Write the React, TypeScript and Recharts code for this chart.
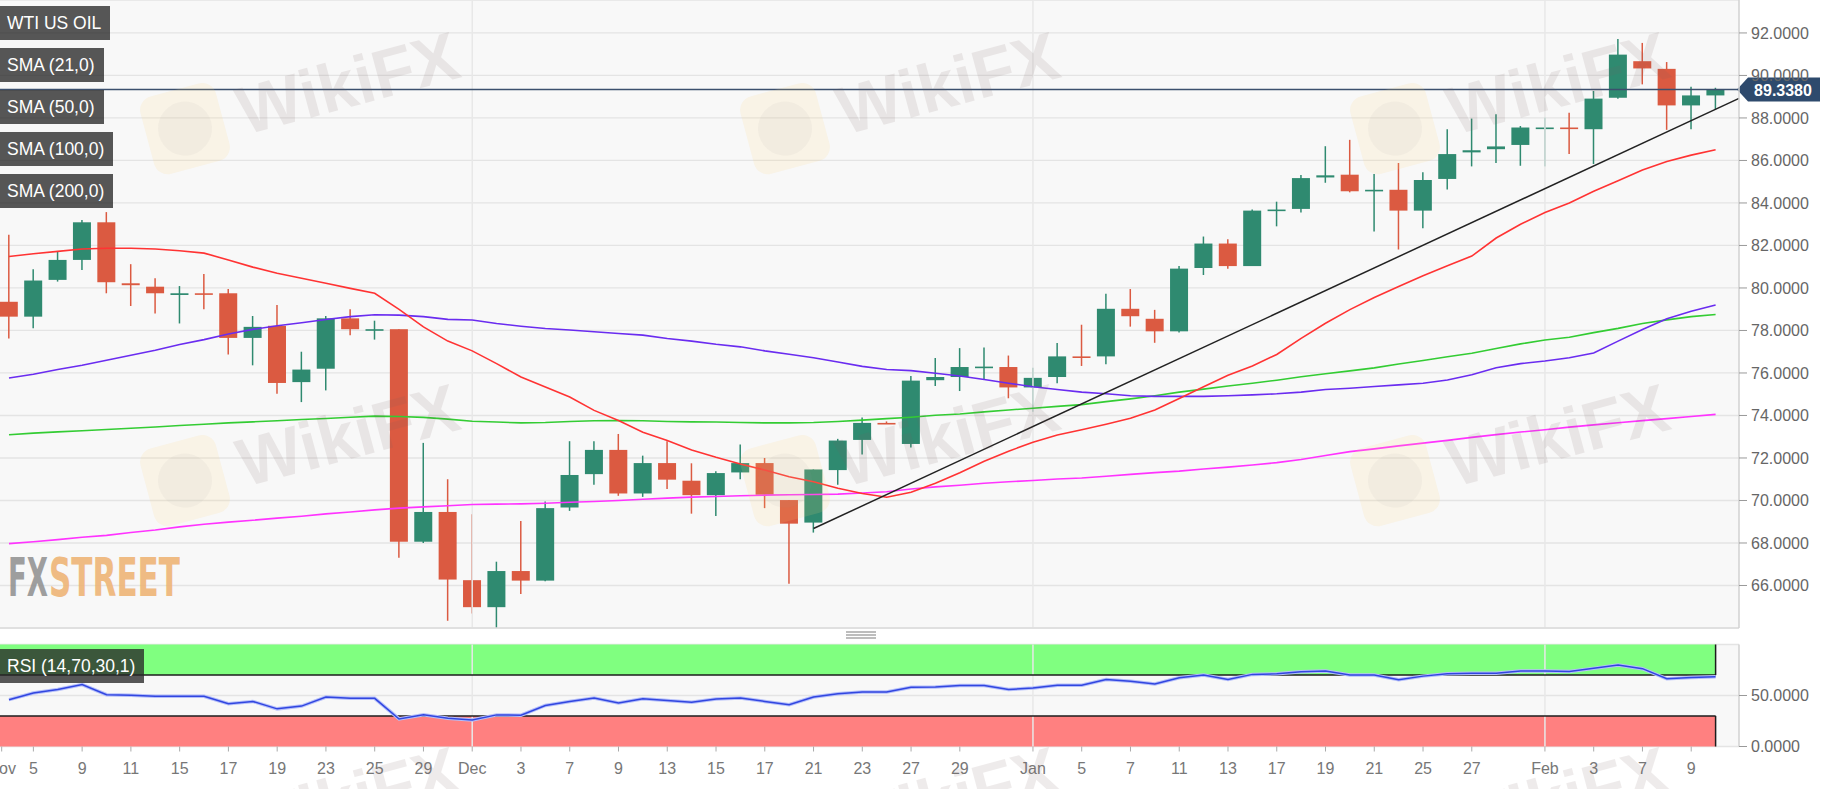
import React from "react";
import {
  ComposedChart,
  Bar,
  Line,
  XAxis,
  YAxis,
  CartesianGrid,
  ReferenceLine,
  ReferenceArea,
} from "recharts";

// WTI daily candles, Nov 4 2021 - Feb 10 2022
const dates = [
  "Nov 4", "Nov 5", "Nov 8", "Nov 9", "Nov 10", "Nov 11", "Nov 12", "Nov 15", "Nov 16", "Nov 17",
  "Nov 18", "Nov 19", "Nov 22", "Nov 23", "Nov 24", "Nov 25", "Nov 26", "Nov 29", "Nov 30",
  "Dec 1", "Dec 2", "Dec 3", "Dec 6", "Dec 7", "Dec 8", "Dec 9", "Dec 10", "Dec 13", "Dec 14",
  "Dec 15", "Dec 16", "Dec 17", "Dec 20", "Dec 21", "Dec 22", "Dec 23", "Dec 24", "Dec 27",
  "Dec 28", "Dec 29", "Dec 30", "Dec 31",
  "Jan 3", "Jan 4", "Jan 5", "Jan 6", "Jan 7", "Jan 10", "Jan 11", "Jan 12", "Jan 13", "Jan 14",
  "Jan 17", "Jan 18", "Jan 19", "Jan 20", "Jan 21", "Jan 24", "Jan 25", "Jan 26", "Jan 27",
  "Jan 28", "Jan 31",
  "Feb 1", "Feb 2", "Feb 3", "Feb 4", "Feb 7", "Feb 8", "Feb 9", "Feb 10",
];

const opens = [
  79.35, 78.65, 80.38, 81.32, 83.09, 80.22, 80.06, 79.67, 79.75, 79.75,
  77.65, 78.22, 75.57, 76.2, 78.57, 78.04, 78.06, 68.06, 69.46, 66.25,
  64.98, 66.68, 66.23, 69.67, 71.24, 72.38, 70.33, 71.76, 70.93, 70.25,
  71.32, 71.76, 70.02, 68.96, 71.43, 72.85, 73.65, 72.66, 75.66, 75.81,
  76.26, 76.28, 75.32, 75.81, 76.78, 76.78, 79.02, 78.55, 77.96, 80.94,
  82.09, 81.03, 83.64, 83.72, 85.2, 85.33, 84.58, 84.62, 83.64, 85.13,
  86.38, 86.53, 86.73, 87.5, 87.55, 87.47, 88.95, 90.67, 90.31, 88.59, 89.06,
];
const highs = [
  82.5, 80.88, 81.72, 83.2, 83.57, 81.12, 80.46, 80.09, 80.66, 79.95,
  78.68, 79.2, 77.0, 78.68, 79.0, 78.46, 78.06, 72.71, 71.0, 69.35,
  67.12, 69.04, 69.95, 72.79, 72.79, 73.13, 72.11, 72.79, 71.75, 71.37,
  72.63, 72.0, 70.02, 71.46, 72.9, 73.9, 73.72, 75.86, 76.7, 77.17,
  77.2, 76.82, 76.25, 77.41, 78.27, 79.73, 79.95, 78.97, 81.03, 82.42,
  82.29, 83.69, 84.06, 85.32, 86.67, 86.97, 85.36, 85.88, 85.44, 87.47,
  87.97, 88.17, 87.62, 88.02, 88.25, 89.27, 91.72, 91.53, 90.63, 89.47, 89.42,
];
const lows = [
  77.62, 78.1, 80.3, 80.85, 79.75, 79.15, 78.8, 78.33, 79.0, 76.87,
  76.36, 75.02, 74.63, 75.18, 77.78, 77.57, 67.31, 68.0, 64.34, 64.68,
  64.0, 65.6, 66.2, 69.51, 70.74, 70.22, 70.17, 70.54, 69.38, 69.27,
  71.0, 69.64, 66.08, 68.49, 70.74, 72.16, 73.6, 72.49, 75.39, 75.15,
  75.72, 74.81, 74.18, 75.52, 76.33, 76.41, 78.18, 77.42, 77.91, 80.61,
  80.91, 81.03, 82.9, 83.55, 84.95, 84.5, 82.66, 81.81, 82.81, 84.63,
  85.72, 85.88, 85.75, 85.72, 86.3, 85.83, 88.9, 89.58, 87.44, 87.47, 88.41,
];
const closes = [
  78.65, 80.35, 81.32, 83.09, 80.27, 80.13, 79.75, 79.75, 79.7, 77.65,
  78.17, 75.53, 76.16, 78.57, 78.06, 78.06, 68.06, 69.46, 66.28, 64.98,
  66.68, 66.23, 69.64, 71.2, 72.38, 70.33, 71.76, 70.98, 70.25, 71.29,
  71.76, 70.27, 68.91, 71.46, 72.82, 73.65, 73.6, 75.64, 75.81, 76.28,
  76.3, 75.32, 75.77, 76.78, 76.73, 79.02, 78.67, 77.96, 80.91, 82.09,
  81.03, 83.64, 83.69, 85.17, 85.3, 84.55, 84.62, 83.64, 85.08, 86.3,
  86.48, 86.66, 87.55, 87.55, 87.5, 88.91, 90.98, 90.33, 88.59, 89.06, 89.33,
];

const sma21 = [
  81.48, 81.61, 81.72, 81.83, 81.87, 81.87, 81.83, 81.75, 81.64, 81.32,
  80.98, 80.69, 80.46, 80.22, 79.98, 79.75, 78.99, 78.17, 77.5, 77.04,
  76.44, 75.81, 75.34, 74.87, 74.24, 73.76, 73.21, 72.82, 72.38, 72.03,
  71.72, 71.43, 71.12, 70.88, 70.58, 70.33, 70.15, 70.39, 70.81, 71.31,
  71.85, 72.32, 72.74, 73.08, 73.33, 73.59, 73.87, 74.26, 74.8, 75.35,
  75.89, 76.33, 76.87, 77.63, 78.34, 78.98, 79.55, 80.07, 80.57, 81.04,
  81.5, 82.35, 83.0, 83.55, 84.0, 84.55, 85.05, 85.55, 85.95, 86.25, 86.5,
];
const sma50 = [
  75.76, 75.94, 76.16, 76.36, 76.6, 76.83, 77.07, 77.34, 77.57, 77.83,
  78.05, 78.22, 78.36, 78.52, 78.65, 78.74, 78.72, 78.65, 78.52, 78.49,
  78.33, 78.2, 78.09, 78.02, 77.94, 77.86, 77.78, 77.62, 77.5, 77.35,
  77.23, 77.04, 76.88, 76.72, 76.52, 76.31, 76.16, 76.11, 75.99, 75.86,
  75.69, 75.52, 75.35, 75.22, 75.1, 75.02, 74.93, 74.9, 74.9, 74.9,
  74.93, 74.97, 75.02, 75.1, 75.22, 75.28, 75.36, 75.44, 75.52, 75.67,
  75.92, 76.25, 76.44, 76.56, 76.72, 76.94, 77.5, 78.05, 78.55, 78.9, 79.2,
];
const sma100 = [
  73.09, 73.17, 73.23, 73.28, 73.34, 73.4, 73.46, 73.53, 73.59, 73.65,
  73.7, 73.75, 73.81, 73.86, 73.92, 73.97, 73.95, 73.91, 73.83, 73.73,
  73.69, 73.65, 73.67, 73.72, 73.75, 73.76, 73.75, 73.72, 73.7, 73.69,
  73.67, 73.65, 73.65, 73.67, 73.72, 73.78, 73.85, 73.92, 74.01, 74.07,
  74.17, 74.26, 74.34, 74.43, 74.51, 74.65, 74.78, 74.93, 75.1, 75.24,
  75.39, 75.52, 75.66, 75.82, 75.96, 76.1, 76.24, 76.42, 76.59, 76.76,
  76.93, 77.15, 77.37, 77.55, 77.68, 77.9, 78.1, 78.33, 78.5, 78.65, 78.75,
];
const sma200 = [
  67.97, 68.06, 68.16, 68.27, 68.36, 68.49, 68.61, 68.76, 68.88, 68.98,
  69.07, 69.17, 69.26, 69.37, 69.46, 69.56, 69.64, 69.7, 69.75, 69.81,
  69.83, 69.84, 69.87, 69.92, 69.95, 70.0, 70.06, 70.11, 70.16, 70.19,
  70.22, 70.25, 70.27, 70.28, 70.3, 70.35, 70.41, 70.54, 70.64, 70.72,
  70.81, 70.88, 70.94, 71.01, 71.06, 71.14, 71.23, 71.31, 71.38, 71.48,
  71.57, 71.67, 71.78, 71.93, 72.12, 72.3, 72.43, 72.57, 72.7, 72.83,
  72.97, 73.1, 73.22, 73.33, 73.45, 73.56, 73.66, 73.76, 73.85, 73.95, 74.05,
];
const rsi = [
  45.9, 52.5, 55.8, 60.7, 50.8, 50.2, 49.2, 49.2, 49.2, 41.9,
  44.2, 36.9, 39.6, 48.5, 47.2, 47.2, 27.0, 31.0, 27.7, 26.0,
  31.0, 30.7, 40.2, 44.2, 47.5, 42.6, 46.9, 45.2, 43.3, 46.5,
  47.5, 44.2, 40.9, 48.5, 51.8, 53.5, 53.5, 58.1, 58.4, 59.8,
  59.8, 55.8, 57.4, 60.1, 60.1, 65.7, 64.0, 61.4, 67.4, 70.0,
  65.7, 70.7, 71.3, 73.3, 74.0, 70.0, 70.0, 65.4, 69.0, 71.3,
  71.7, 71.7, 74.0, 74.0, 73.6, 76.6, 79.9, 76.3, 66.4, 67.7, 68.3,
];

const priceTicks = [66, 68, 70, 72, 74, 76, 78, 80, 82, 84, 86, 88, 90, 92];
const rsiTicks = [0, 50];
const xTickIdx = [
  -0.3, 1, 3, 5, 7, 9, 11, 13, 15, 17, 19, 21, 23, 25, 27, 29, 31, 33, 35, 37,
  39, 42, 44, 46, 48, 50, 52, 54, 56, 58, 60, 63, 65, 67, 69,
];
const xTickLabels = [
  "Nov", "5", "9", "11", "15", "17", "19", "23", "25", "29", "Dec", "3", "7", "9", "13",
  "15", "17", "21", "23", "27", "29", "Jan", "5", "7", "11", "13", "17", "19", "21", "25",
  "27", "Feb", "3", "7", "9",
];
const monthStarts = [19, 42, 63];
const legendLabels = ["WTI US OIL", "SMA (21,0)", "SMA (50,0)", "SMA (100,0)", "SMA (200,0)"];

const lastPrice = 89.338;
const trendStart = { i: 33, v: 68.68 };
const trendEnd = { i: 70.96, v: 88.92 };

const X_MIN = -0.369;
const X_MAX = 70.96;
const LAST_IDX = dates.length - 1;

const GREEN = "#2f8a70";
const RED = "#db5a41";
const FONT = "'Liberation Sans', Arial, sans-serif";

const rows = dates.map((date, i) => ({
  i,
  date,
  open: opens[i],
  high: highs[i],
  low: lows[i],
  close: closes[i],
  range: [lows[i], highs[i]],
  sma21: sma21[i],
  sma50: sma50[i],
  sma100: sma100[i],
  sma200: sma200[i],
  rsi: rsi[i],
}));

const tickLabel = new Map(xTickIdx.map((v, k) => [v, xTickLabels[k]]));

function Candle(props: any) {
  const { x, y, width, height, payload } = props;
  if (x == null || y == null) return null;
  const { open, close, high, low } = payload;
  const color = close >= open ? GREEN : RED;
  const span = high - low;
  const k = span > 0 ? height / span : 0;
  const yOpen = y + (high - open) * k;
  const yClose = y + (high - close) * k;
  const top = Math.min(yOpen, yClose);
  const bodyH = Math.max(1.6, Math.abs(yOpen - yClose));
  const cx = x + width / 2;
  return (
    <g>
      <line x1={cx} x2={cx} y1={y} y2={y + height} stroke={color} strokeWidth={1.5} />
      <rect x={x} y={top} width={width} height={bodyH} fill={color} />
    </g>
  );
}

function PriceTag(props: any) {
  const vb = props.viewBox || {};
  const x = (vb.x ?? 0) + (vb.width ?? 0);
  const y = vb.y ?? 0;
  return (
    <g>
      <polygon
        points={`${x - 2},${y} ${x + 9},${y - 12} ${x + 81},${y - 12} ${x + 81},${y + 12} ${x + 9},${y + 12}`}
        fill="#2e4a6d"
      />
      <text x={x + 44} y={y + 6} textAnchor="middle" fill="#fff" fontSize={16} fontWeight="bold">
        {lastPrice.toFixed(4)}
      </text>
    </g>
  );
}

function Watermark({ x, y }: { x: number; y: number }) {
  return (
    <g transform={`rotate(-15 ${x} ${y})`}>
      <rect x={x - 200} y={y - 38} width={78} height={80} rx={14} fill="#ffd77a" opacity={0.14} />
      <circle cx={x - 161} cy={y + 2} r={27} fill="#9a9a9a" opacity={0.07} />
      <text x={x - 105} y={y + 24} fontSize={68} fontWeight="bold" fill="#7a6060" opacity={0.12}
        fontFamily={FONT}>
        WikiFX
      </text>
    </g>
  );
}

const boxStyle: React.CSSProperties = {
  position: "absolute",
  left: 0,
  height: 34,
  lineHeight: "34px",
  padding: "0 9px 0 7px",
  background: "rgba(40,40,40,0.78)",
  color: "#fff",
  fontFamily: FONT,
  fontSize: 17.5,
  whiteSpace: "nowrap",
};

export default function App() {
  return (
    <div
      style={{
        position: "absolute",
        left: 0,
        top: 0,
        width: 1834,
        height: 789,
        background: "#fff",
        overflow: "hidden",
        fontFamily: FONT,
      }}
    >
      <div style={{ position: "absolute", left: 0, top: 0 }}>
        <ComposedChart width={1834} height={636} data={rows} margin={{ top: 0, right: 0, bottom: 8, left: 0 }}>
          <CartesianGrid vertical={false} fill="#f8f8f8" stroke="#e4e4e4" strokeWidth={1.3} />
          <XAxis type="number" dataKey="i" domain={[X_MIN, X_MAX]} allowDataOverflow hide />
          <YAxis
            orientation="right"
            width={95}
            domain={[64, 93.55]}
            allowDataOverflow
            ticks={priceTicks}
            tickFormatter={(v: number) => v.toFixed(4)}
            tick={{ fill: "#666", fontSize: 16 }}
            tickLine={{ stroke: "#999" }}
            tickSize={8}
            tickMargin={4}
            axisLine={{ stroke: "#d2d2d2", strokeWidth: 1.5 }}
          />
          {monthStarts.map((m) => (
            <ReferenceLine key={m} x={m} stroke="#e8e8e8" strokeWidth={1.5} />
          ))}
          <ReferenceLine y={64} stroke="#dddddd" strokeWidth={1.5} />
          <Bar dataKey="range" barSize={18} shape={Candle} activeBar={false} isAnimationActive={false} />
          <Line dataKey="sma200" stroke="#ff33ff" strokeWidth={1.6} dot={false} activeDot={false} isAnimationActive={false} />
          <Line dataKey="sma100" stroke="#33cc33" strokeWidth={1.6} dot={false} activeDot={false} isAnimationActive={false} />
          <Line dataKey="sma50" stroke="#6a2cf0" strokeWidth={1.6} dot={false} activeDot={false} isAnimationActive={false} />
          <Line dataKey="sma21" stroke="#ff3333" strokeWidth={1.6} dot={false} activeDot={false} isAnimationActive={false} />
          <ReferenceLine
            segment={[
              { x: trendStart.i, y: trendStart.v },
              { x: trendEnd.i, y: trendEnd.v },
            ]}
            stroke="#222"
            strokeWidth={1.5}
          />
          <ReferenceLine y={lastPrice} stroke="#3b4f6d" strokeWidth={1.5} label={<PriceTag />} />
        </ComposedChart>
      </div>

      <div style={{ position: "absolute", left: 0, top: 636 }}>
        <ComposedChart width={1834} height={153} data={rows} margin={{ top: 8.5, right: 0, bottom: 0, left: 0 }}>
          <CartesianGrid vertical={false} fill="#f8f8f8" stroke="#e4e4e4" strokeWidth={1.3} />
          <XAxis
            type="number"
            dataKey="i"
            domain={[X_MIN, X_MAX]}
            allowDataOverflow
            ticks={xTickIdx}
            interval={0}
            tickFormatter={(v: number) => tickLabel.get(v) ?? ""}
            tick={{ fill: "#777", fontSize: 16 }}
            tickLine={{ stroke: "#aaa" }}
            tickSize={5}
            tickMargin={11}
            axisLine={false}
            height={42.5}
          />
          <YAxis
            orientation="right"
            width={95}
            domain={[0, 100]}
            ticks={rsiTicks}
            tickFormatter={(v: number) => v.toFixed(4)}
            tick={{ fill: "#666", fontSize: 16 }}
            tickLine={{ stroke: "#999" }}
            tickSize={8}
            tickMargin={4}
            axisLine={{ stroke: "#d2d2d2", strokeWidth: 1.5 }}
          />
          {monthStarts.map((m) => (
            <ReferenceLine key={m} x={m} stroke="#e8e8e8" strokeWidth={1.5} />
          ))}
          <ReferenceArea x1={X_MIN} x2={LAST_IDX} y1={70} y2={100} fill="#80ff80" fillOpacity={1} stroke="none" />
          <ReferenceArea x1={X_MIN} x2={LAST_IDX} y1={0} y2={30} fill="#ff8080" fillOpacity={1} stroke="none" />
          <ReferenceLine segment={[{ x: X_MIN, y: 70 }, { x: LAST_IDX, y: 70 }]} stroke="#1c1c1c" strokeWidth={1.5} />
          <ReferenceLine segment={[{ x: X_MIN, y: 30 }, { x: LAST_IDX, y: 30 }]} stroke="#1c1c1c" strokeWidth={1.5} />
          <ReferenceLine segment={[{ x: LAST_IDX, y: 70 }, { x: LAST_IDX, y: 100 }]} stroke="#1c1c1c" strokeWidth={1.5} />
          <ReferenceLine segment={[{ x: LAST_IDX, y: 0 }, { x: LAST_IDX, y: 30 }]} stroke="#1c1c1c" strokeWidth={1.5} />
          <Line dataKey="rsi" stroke="#b4befa" strokeWidth={3.5} dot={false} activeDot={false} isAnimationActive={false} />
          <Line dataKey="rsi" stroke="#3146e0" strokeWidth={1.5} dot={false} activeDot={false} isAnimationActive={false} />
        </ComposedChart>
      </div>

      <svg
        width={1834}
        height={789}
        style={{ position: "absolute", left: 0, top: 0, pointerEvents: "none" }}
      >
        <text x={8} y={596} fontFamily="'Liberation Sans Narrow', 'DejaVu Sans Condensed', sans-serif"
          fontWeight="bold" fontSize={54} fill="#8f8f8f" opacity={0.85} textLength={40} lengthAdjust="spacingAndGlyphs">
          FX
        </text>
        <text x={49} y={596} fontFamily="'Liberation Sans Narrow', 'DejaVu Sans Condensed', sans-serif"
          fontWeight="bold" fontSize={54} fill="#efb577" opacity={0.9} textLength={131} lengthAdjust="spacingAndGlyphs">
          STREET
        </text>
        <line x1={846} x2={876} y1={632} y2={632} stroke="#999" strokeWidth={1.3} />
        <line x1={846} x2={876} y1={635} y2={635} stroke="#999" strokeWidth={1.3} />
        <line x1={846} x2={876} y1={638} y2={638} stroke="#999" strokeWidth={1.3} />
        {[85, 437, 800].map((wy) =>
          [340, 940, 1550].map((wx) => <Watermark key={`${wx}-${wy}`} x={wx} y={wy} />)
        )}
      </svg>

      {legendLabels.map((t, k) => (
        <div key={t} style={{ ...boxStyle, top: 6 + 42 * k }}>
          {t}
        </div>
      ))}
      <div style={{ ...boxStyle, top: 649 }}>RSI (14,70,30,1)</div>
    </div>
  );
}
